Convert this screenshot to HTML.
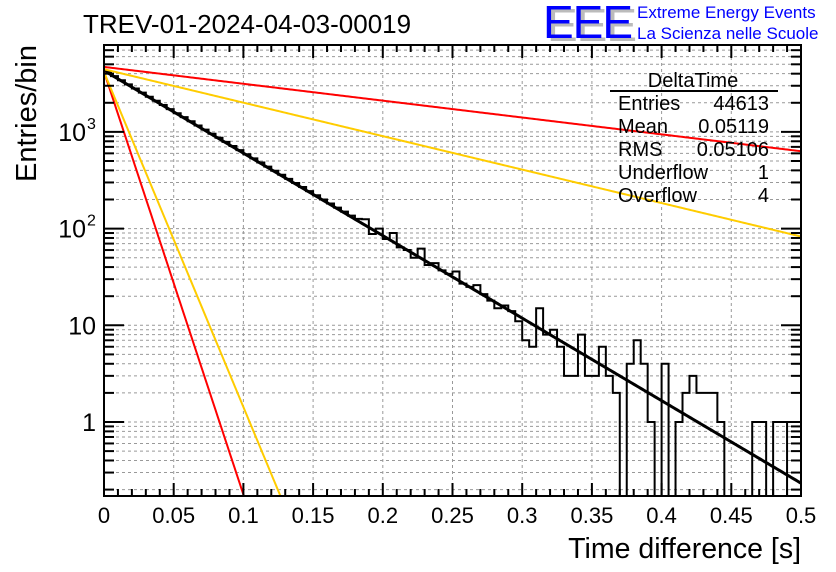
<!DOCTYPE html>
<html><head><meta charset="utf-8"><style>
html,body{margin:0;padding:0;background:#fff;}
svg{display:block;font-family:"Liberation Sans",Arial,sans-serif;}
</style></head><body>
<svg id="c" width="836" height="572" viewBox="0 0 836 572">
<rect width="836" height="572" fill="#fff"/>
<g id="grid"></g>
<g id="hist"></g>
<g id="fits"></g>
<g id="axes"></g>
<text x="83" y="33" font-size="26">TREV-01-2024-04-03-00019</text>
<g>
<text x="547" y="41" font-size="46" fill="#bbb" letter-spacing="-1">EEE</text>
<text x="543" y="38" font-size="46" fill="#0000ff" letter-spacing="-1">EEE</text>
<text x="637" y="18" font-size="17" fill="#0000ff">Extreme Energy Events</text>
<text x="637" y="39" font-size="17" fill="#0000ff">La Scienza nelle Scuole</text>
</g>
<g font-size="20">
<text x="693" y="87" text-anchor="middle">DeltaTime</text>
<line x1="610" y1="91" x2="778" y2="91" stroke="#000" stroke-width="2"/>
<text x="618" y="110">Entries</text><text x="769" y="110" text-anchor="end">44613</text>
<text x="618" y="133">Mean</text><text x="769" y="133" text-anchor="end">0.05119</text>
<text x="618" y="156">RMS</text><text x="769" y="156" text-anchor="end">0.05106</text>
<text x="618" y="179">Underflow</text><text x="769" y="179" text-anchor="end">1</text>
<text x="618" y="202">Overflow</text><text x="769" y="202" text-anchor="end">4</text>
</g>
<text x="0" y="0" font-size="29" text-anchor="end" transform="translate(36,45) rotate(-90)">Entries/bin</text>
<text x="801" y="558" font-size="28.5" text-anchor="end">Time difference [s]</text>
</svg>
<script>
const binCounts = [4160,3770,3420,3100,2810,2550,2310,2100,1900,1720,
1560,1420,1290,1165,1057,958,869,788,715,648,
588,533,483,438,397,360,327,296,269,244,
221,200,182,165,150,136,126,125,88,100,
78,90,64,60,50,62,42,44,37,34,
36,27,25,26,21,18,15,16,14,11,
7,6,15,8,9,6,3,3,8,3,
3,6,3,2,0,4,7,4,1,0,
4,0,1,2,3,2,2,2,1,0,
0,0,0,1,1,0,1,1,0,0];
const binWidth = 0.005;
const fitAmps = [4300,4200,4150,4700,4450];
const fitTaus = [0.0509,0.00993,0.01254,0.249,0.1255];
const fitColors = ["#000","#ff0000","#ffcc00","#ff0000","#ffcc00"];
const xTicks = [0,0.05,0.1,0.15,0.2,0.25,0.3,0.35,0.4,0.45,0.5];
const xTickLabels = ["0","0.05","0.1","0.15","0.2","0.25","0.3","0.35","0.4","0.45","0.5"];
const yDecades = [1,10,100,1000];
const yDecadeLabels = [["1",""],["10",""],["10","2"],["10","3"]];

const NS="http://www.w3.org/2000/svg";
const L=104,R=801,T=45,B=496;
const yMin=Math.pow(10,-0.765), yMax=Math.pow(10,(422-45)/96.7);
function X(t){return L+(t/0.5)*(R-L);}
function Y(v){if(v<=yMin)return B;return 422-Math.log10(v)*96.7;}
function mk(tag,attrs,parent){const e=document.createElementNS(NS,tag);for(const k in attrs)e.setAttribute(k,attrs[k]);parent.appendChild(e);return e;}
const grid=document.getElementById('grid'),hist=document.getElementById('hist'),fits=document.getElementById('fits'),axes=document.getElementById('axes');
xTicks.forEach((t,i)=>{if(i>0&&i<xTicks.length-1){const l=mk('line',{x1:X(t),x2:X(t),y1:T,y2:B,stroke:'#999','stroke-dasharray':'3,3','stroke-width':1},grid);

}});
for(let d=-1;d<=3;d++){for(let m=1;m<=9;m++){const v=m*Math.pow(10,d);if(v<yMin||v>yMax)continue;const y=Y(v);
const l=mk('line',{x1:L,x2:R,y1:y,y2:y,stroke:'#999','stroke-dasharray':'3,3','stroke-width':1},grid);

}}
let pts=[];let prevY=B;
binCounts.forEach((c,i)=>{const x0=X(i*binWidth),x1=X((i+1)*binWidth);const y=c>0?Y(c):B;pts.push([x0,prevY],[x0,y],[x1,y]);prevY=y;});
pts.push([R,B]);
const hp=mk('polyline',{points:pts.map(p=>p.join(',')).join(' '),fill:'none',stroke:'#000','stroke-width':2},hist);


fitAmps.forEach((a,k)=>{let p=[];for(let s=0;s<=400;s++){const t=s/400*0.5;const v=a*Math.exp(-t/fitTaus[k]);if(v<yMin){p.push([X(fitTaus[k]*Math.log(a/yMin)),B]);break;}p.push([X(t),Y(v)]);}
const pl=mk('polyline',{points:p.map(q=>q.join(',')).join(' '),fill:'none',stroke:fitColors[k],'stroke-width':k==0?3:2},fits);

});
const fr=mk('rect',{x:L,y:T,width:R-L,height:B-T,fill:'none',stroke:'#000','stroke-width':2},axes);


for(let i=0;i<=50;i++){const t=i*0.01;const x=X(t);const major=i%5==0;const len=major?13:7;
mk('line',{x1:x,x2:x,y1:B,y2:B-len,stroke:'#000','stroke-width':2},axes);
mk('line',{x1:x,x2:x,y1:T,y2:T+len,stroke:'#000','stroke-width':2},axes);}
xTicks.forEach((t,i)=>{const tx=mk('text',{x:X(t),y:523,'font-size':22,'text-anchor':'middle'},axes);tx.textContent=xTickLabels[i];

});
for(let d=-1;d<=3;d++){for(let m=1;m<=9;m++){const v=m*Math.pow(10,d);if(v<yMin||v>yMax)continue;const y=Y(v);const len=m==1?20:10;
mk('line',{x1:L,x2:L+len,y1:y,y2:y,stroke:'#000','stroke-width':2},axes);
mk('line',{x1:R,x2:R-len,y1:y,y2:y,stroke:'#000','stroke-width':2},axes);}}
yDecades.forEach((v,i)=>{const y=Y(v);const tx=mk('text',{x:i<2?96:86,y:y+9,'font-size':25,'text-anchor':'end'},axes);tx.textContent=yDecadeLabels[i][0];


if(yDecadeLabels[i][1]){const s=mk('text',{x:87,y:y-3,'font-size':16},axes);s.textContent=yDecadeLabels[i][1];

}});
</script>
</body></html>
